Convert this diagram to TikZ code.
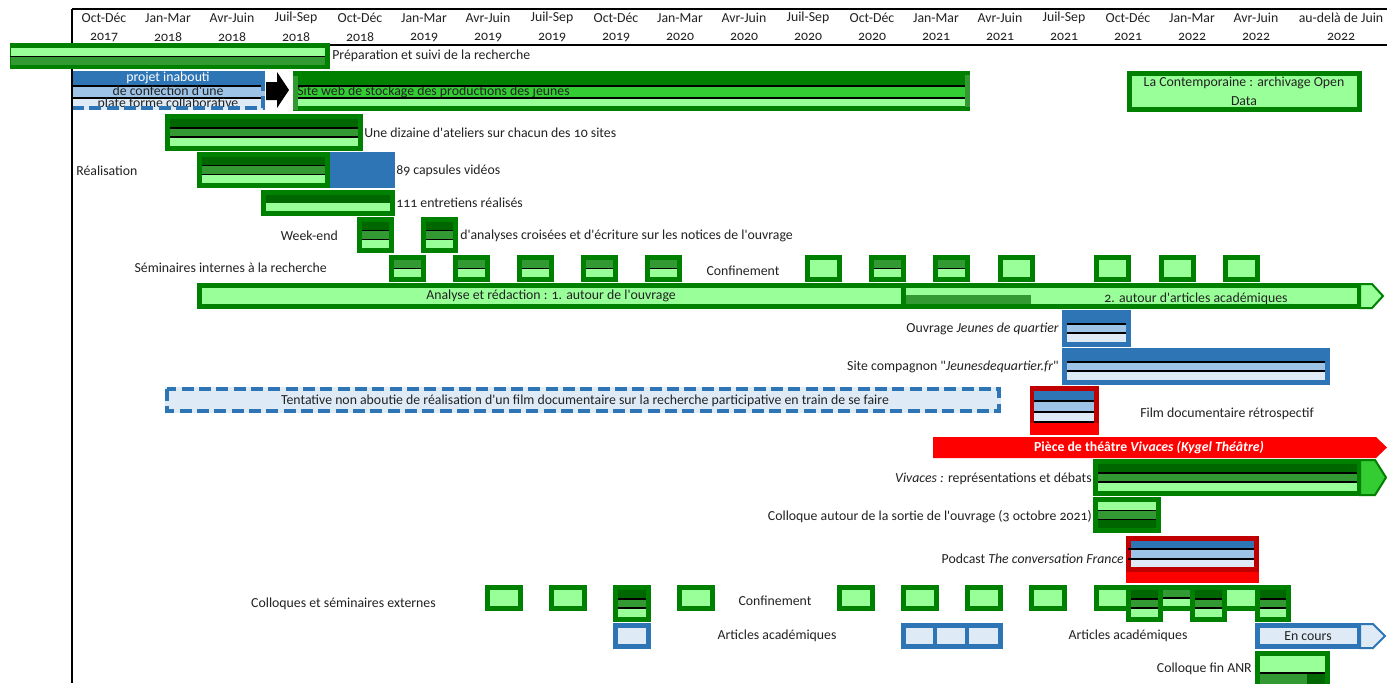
\documentclass[tikz,border=0pt]{standalone}
\usepackage{fontspec}
\newfontfamily\cf{Carlito}[Numbers=OldStyle]
\definecolor{gB}{HTML}{008000}
\definecolor{gD}{HTML}{006600}
\definecolor{gM}{HTML}{339933}
\definecolor{gL}{HTML}{99FF99}
\definecolor{gC}{HTML}{33CC33}
\definecolor{bB}{HTML}{2E75B6}
\definecolor{bL}{HTML}{9DC3E6}
\definecolor{bV}{HTML}{DEEBF7}
\definecolor{rR}{HTML}{FF0000}
\definecolor{rD}{HTML}{C00000}
\definecolor{txt}{HTML}{222222}
\tikzset{
  lbl/.style={font=\cf\fontsize{10.35}{12}\selectfont, text=txt, inner sep=0pt},
  sep/.style={black, line width=1.1pt},
  axis/.style={black, line width=1.4pt},
  dashbox/.style={bB, line width=3pt, dash pattern=on 9pt off 4pt},
  headpoly/.style={line width=1.5pt, line join=miter}
}
% three-band box: x1 y1 x2 y2 border c1 c2 c3
\newcommand\gthree[8]{%
  \fill[#5] (#1,#2) rectangle (#3,#4);
  \pgfmathsetmacro\gbXa{#1+5}\pgfmathsetmacro\gbXb{#3-5}%
  \pgfmathsetmacro\gbYa{#2+5}\pgfmathsetmacro\gbYd{#4-5}%
  \pgfmathsetmacro\gbYb{\gbYa+(\gbYd-\gbYa)/3}%
  \pgfmathsetmacro\gbYc{\gbYa+2*(\gbYd-\gbYa)/3}%
  \fill[#6] (\gbXa,\gbYa) rectangle (\gbXb,\gbYb);
  \fill[#7] (\gbXa,\gbYb) rectangle (\gbXb,\gbYc);
  \fill[#8] (\gbXa,\gbYc) rectangle (\gbXb,\gbYd);
  \draw[sep] (\gbXa,\gbYb) -- (\gbXb,\gbYb);
  \draw[sep] (\gbXa,\gbYc) -- (\gbXb,\gbYc);}
% two-band box: x1 y1 x2 y2 border c1 c2 lineopts
\newcommand\gtwo[8]{%
  \fill[#5] (#1,#2) rectangle (#3,#4);
  \pgfmathsetmacro\gbXa{#1+5}\pgfmathsetmacro\gbXb{#3-5}%
  \pgfmathsetmacro\gbYa{#2+5}\pgfmathsetmacro\gbYd{#4-5}%
  \pgfmathsetmacro\gbYb{\gbYa+(\gbYd-\gbYa)/2}%
  \fill[#6] (\gbXa,\gbYa) rectangle (\gbXb,\gbYb);
  \fill[#7] (\gbXa,\gbYb) rectangle (\gbXb,\gbYd);
  \draw[#8] (\gbXa,\gbYb) -- (\gbXb,\gbYb);}
% one-band box: x1 y1 x2 y2 border c1
\newcommand\gone[6]{%
  \fill[#5] (#1,#2) rectangle (#3,#4);
  \pgfmathsetmacro\gbXa{#1+5}\pgfmathsetmacro\gbXb{#3-5}%
  \pgfmathsetmacro\gbYa{#2+5}\pgfmathsetmacro\gbYd{#4-5}%
  \fill[#6] (\gbXa,\gbYa) rectangle (\gbXb,\gbYd);}
\begin{document}
\begin{tikzpicture}[x=0.75pt,y=-0.75pt]
\useasboundingbox (0,0) rectangle (1387,683);
\clip (0,0) rectangle (1387,683);
\fill[white] (0,0) rectangle (1387,683);

% ---------- header ----------
\foreach \i/\a/\b in {0/Oct-Déc/2017,1/Jan-Mar/2018,2/Avr-Juin/2018,3/Juil-Sep/2018,
  4/Oct-Déc/2018,5/Jan-Mar/2019,6/Avr-Juin/2019,7/Juil-Sep/2019,8/Oct-Déc/2019,
  9/Jan-Mar/2020,10/Avr-Juin/2020,11/Juil-Sep/2020,12/Oct-Déc/2020,13/Jan-Mar/2021,
  14/Avr-Juin/2021,15/Juil-Sep/2021,16/Oct-Déc/2021,17/Jan-Mar/2022,18/Avr-Juin/2022}{
  \node[lbl] (hA\i) at ({104+64*\i},18) {\a};
  \node[lbl] (hB\i) at ({104+64*\i},37) {\b};
}
\node[lbl] (hA19) at (1341,18) {au-delà de Juin};
\node[lbl] (hB19) at (1341,37) {2022};
\draw[axis] (72,9) -- (1387,9);
\draw[axis] (72,45) -- (1387,45);
\draw[axis] (72,9) -- (72,683);

% ---------- Préparation ----------
\fill[gB] (10,43) rectangle (330,69);
\fill[gL] (11,48) rectangle (325,56.5);
\fill[gM] (11,56.5) rectangle (325,65);
\draw[sep] (10,56.5) -- (325,56.5);
\node[lbl,anchor=west] (prep) at (332,56) {Préparation et suivi de la recherche};

% ---------- projet inabouti ----------
\fill[bB] (72,71) rectangle (265,86);
\fill[bL] (72,86) rectangle (265,98);
\fill[bV] (72,98) rectangle (265,110);
\draw[sep] (72,86) -- (262,86);
\draw[sep] (72,98) -- (262,98);
\node[lbl,text=white] (pA) at (168,78) {projet inabouti};
\node[lbl] (pB) at (168,91) {de confection d'une};
\node[lbl] (pC) at (168,103.5) {plate forme collaborative};
\draw[dashbox] (72,108) -- (263,108) -- (263,73);
\draw[axis] (72,71) -- (72,110);
% black block arrow
\fill[black] (266,82) -- (277,82) -- (277,72) -- (289,90) -- (277,108) -- (277,100) -- (266,100) -- cycle;

% ---------- Site web ----------
\fill[gB] (293,71) rectangle (970,111);
\fill[gM] (293,76) rectangle (298,110);
\fill[gM] (965,75) rectangle (970,107);
\fill[gC] (298,86) rectangle (965,98);
\fill[gL] (298,98) rectangle (965,106);
\node[lbl,anchor=west] (site) at (297,92) {Site web de stockage des productions des jeunes};
\draw[sep] (298,86) -- (965,86);
\draw[sep] (298,98) -- (965,98);

% ---------- La Contemporaine ----------
\gone{1127}{71}{1362}{112}{gB}{gL}
\node[lbl] (lcA) at (1244,83) {La Contemporaine : archivage Open};
\node[lbl] (lcB) at (1244,101) {Data};

% ---------- ateliers ----------
\gthree{165}{114}{363}{151}{gB}{gD}{gM}{gL}
\node[lbl,anchor=west] (atel) at (364,133) {Une dizaine d'ateliers sur chacun des 10 sites};

% ---------- capsules ----------
\node[lbl,anchor=west] (real) at (76,171) {Réalisation};
\gthree{197}{152}{330}{188}{gB}{gD}{gM}{gL}
\fill[bB] (330,152) rectangle (395,188);
\node[lbl,anchor=west] (caps) at (396,171) {89 capsules vidéos};

% ---------- entretiens ----------
\gtwo{261}{190}{395}{216}{gB}{gD}{gL}{draw=none}
\node[lbl,anchor=west] (entr) at (396,203) {111 entretiens réalisés};

% ---------- week-end ----------
\node[lbl,anchor=east] (wk) at (338,236) {Week-end};
\gthree{357}{217}{394}{253}{gB}{gD}{gM}{gL}
\gthree{421}{217}{458}{253}{gB}{gD}{gM}{gL}
\node[lbl,anchor=west] (wkt) at (460,236) {d'analyses croisées et d'écriture sur les notices de l'ouvrage};

% ---------- séminaires internes ----------
\node[lbl,anchor=east] (semi) at (327,268) {Séminaires internes à la recherche};
\foreach \x in {389,453,517,581,645,869,933}{\gtwo{\x}{255}{\x+37}{282}{gB}{gM}{gL}{sep}}
\foreach \x in {805,998,1094,1159,1223}{\gone{\x}{255}{\x+37}{282}{gB}{gL}}
\node[lbl] (conf1) at (743,271) {Confinement};

% ---------- Analyse et rédaction ----------
\fill[gB] (197,283) rectangle (1362,309);
\fill[gL] (202,288) rectangle (1357,304);
\fill[gB] (901,283) rectangle (906,309);
\fill[gM] (906,295) rectangle (1031,304);
\filldraw[gB,fill=gL,headpoly] (1360,284) -- (1372,284) -- (1383,296) -- (1372,308) -- (1360,308) -- cycle;
\node[lbl] (anaA) at (551,296) {Analyse et rédaction : 1. autour de l'ouvrage};
\node[lbl] (anaB) at (1196,299) {2. autour d'articles académiques};

% ---------- Ouvrage ----------
\node[lbl,anchor=east] (ouv) at (1059,329) {Ouvrage \textit{Jeunes de quartier}};
\gthree{1062}{310}{1131}{347}{bB}{bB}{bL}{bV}
\node[lbl,anchor=east] (comp) at (1059,367) {Site compagnon "\textit{Jeunesdequartier.fr}"};
\gthree{1062}{348}{1330}{385}{bB}{bB}{bL}{bV}

% ---------- Tentative ----------
\fill[bV] (165,387) rectangle (1001,413);
\draw[dashbox] (167,389) rectangle (999,411);
\node[lbl] (tent) at (585,401) {Tentative non aboutie de réalisation d'un film documentaire sur la recherche participative en train de se faire};

% ---------- Film ----------
\fill[rD] (1030,386) rectangle (1099,423);
\fill[rR] (1030,423) rectangle (1099,435);
\fill[bB] (1034,391) rectangle (1094,401);
\fill[bL] (1034,401) rectangle (1094,412);
\fill[bV] (1034,412) rectangle (1094,422);
\draw[sep] (1034,401) -- (1094,401);
\draw[sep] (1034,412) -- (1094,412);
\draw[sep] (1034,422) -- (1094,422);
\node[lbl,anchor=west] (film) at (1140,414) {Film documentaire rétrospectif};

% ---------- Pièce de théâtre ----------
\fill[rR] (933,437) -- (1376,437) -- (1387,447.5) -- (1376,458) -- (933,458) -- cycle;
\node[lbl,text=white,font=\cf\bfseries\fontsize{10.35}{12}\selectfont] (piece) at (1149,448) {Pièce de théâtre \textit{Vivaces (Kygel Théâtre)}};

% ---------- Vivaces ----------
\node[lbl,anchor=east] (viv) at (1092,479) {\textit{Vivaces :} représentations et débats};
\gthree{1093}{459}{1362}{496}{gB}{gD}{gM}{gL}
\filldraw[gB,fill=gC,headpoly] (1360,460) -- (1375,460) -- (1386,477.5) -- (1375,495) -- (1360,495) -- cycle;

% ---------- Colloque sortie ----------
\node[lbl,anchor=east] (coll) at (1092,517) {Colloque autour de la sortie de l'ouvrage (3 octobre 2021)};
\gthree{1093}{497}{1161}{533}{gB}{gL}{gM}{gD}

% ---------- Podcast ----------
\node[lbl,anchor=east] (pod) at (1124,559) {Podcast \textit{The conversation France}};
\fill[rD] (1126,536) rectangle (1259,572);
\fill[rR] (1126,572) rectangle (1259,583);
\fill[bB] (1131,541) rectangle (1254,549);
\fill[bL] (1131,549) rectangle (1254,559);
\fill[bV] (1131,559) rectangle (1254,567);
\draw[sep] (1128,549) -- (1254,549);
\draw[sep] (1128,559) -- (1254,559);

% ---------- Colloques externes ----------
\node[lbl,anchor=east] (cext) at (436,604) {Colloques et séminaires externes};
\foreach \x in {485,549,677,837,901,965,1029}{\gone{\x}{585}{\x+38}{611}{gB}{gL}}
\gthree{613}{585}{651}{622}{gB}{gD}{gM}{gL}
\fill[gB] (1094,585) rectangle (1291,611);
\fill[gL] (1099,590) rectangle (1126,606);
\fill[gM] (1162,590) rectangle (1190,598);
\fill[gL] (1162,598) rectangle (1190,606);
\draw[sep] (1162,598) -- (1190,598);
\fill[gL] (1227,590) rectangle (1255,606);
\gthree{1126}{585}{1163}{622}{gB}{gD}{gM}{gL}
\gthree{1190}{585}{1227}{622}{gB}{gD}{gM}{gL}
\gthree{1255}{585}{1291}{622}{gB}{gD}{gM}{gL}
\node[lbl] (conf2) at (775,601) {Confinement};

% ---------- Articles académiques ----------
\gone{613}{623}{651}{649}{bB}{bV}
\fill[bB] (901,623) rectangle (1003,649);
\fill[bV] (906,628) rectangle (933,644);
\fill[bV] (937,628) rectangle (965,644);
\fill[bV] (969,628) rectangle (998,644);
\node[lbl] (artA) at (777,636) {Articles académiques};
\node[lbl] (artB) at (1128,636) {Articles académiques};
\gone{1255}{623}{1362}{649}{bB}{bV}
\filldraw[bB,fill=bV,headpoly] (1360,624) -- (1373,624) -- (1385,636) -- (1373,648) -- (1360,648) -- cycle;
\node[lbl] (enc) at (1308,636) {En cours};

% ---------- Colloque fin ANR ----------
\node[lbl,anchor=east] (anr) at (1252,669) {Colloque fin ANR};
\fill[gB] (1255,651) rectangle (1330,690);
\fill[gL] (1260,656) rectangle (1325,673);
\fill[gM] (1260,673) rectangle (1307,690);
\fill[gD] (1307,673) rectangle (1325,690);
\draw[sep] (1260,673) -- (1325,673);
\end{tikzpicture}
\end{document}
